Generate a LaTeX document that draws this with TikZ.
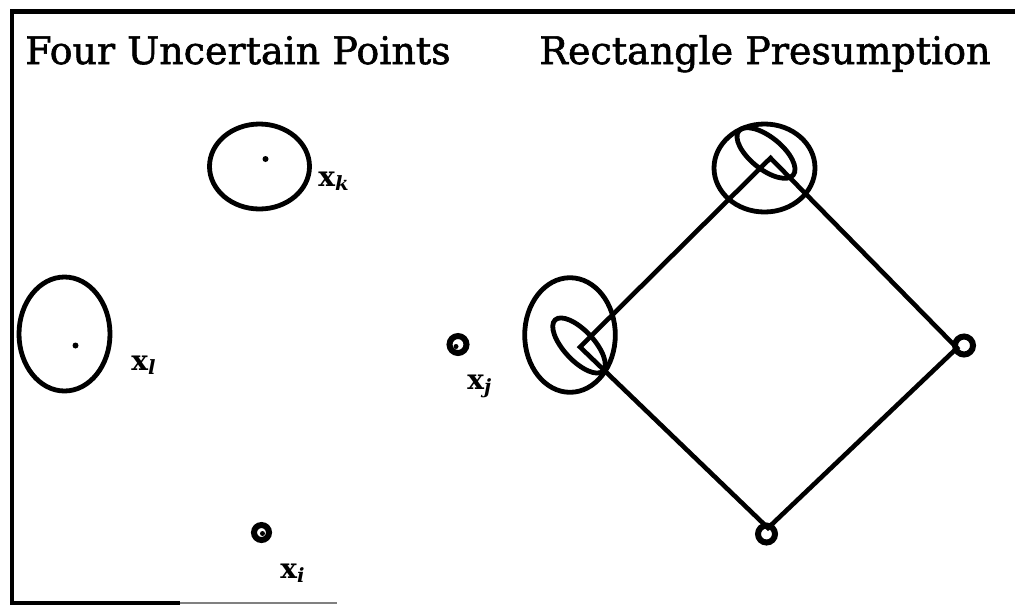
\documentclass[tikz,border=0pt]{standalone}
\usepackage{fontspec}
\setmainfont{DejaVu Serif}
\newfontfamily\heavyserif[FakeBold=1.5]{DejaVu Serif}
\usetikzlibrary{positioning}

\tikzset{
  ttl/.style={anchor=base, inner sep=0pt, font=\fontsize{19}{22}\heavyserif},
  lab/.style={anchor=base west, inner sep=0pt, font=\fontsize{14}{16}\selectfont\bfseries},
  ring/.style={draw, line width=2.4pt},
  pin/.style={draw, line width=3pt},
  side/.style={draw, line width=2.3pt, line join=miter},
}

\begin{document}
\begin{tikzpicture}[x=0.5pt, y=-0.5pt]
    \useasboundingbox (0,0) rectangle (1015,606);

    % Frame
    \draw[line width=2.4pt] (180,603) -- (12,603) -- (12,11.5) -- (1015,11.5);
    \draw[gray, line width=0.8pt] (180,603) -- (337,603);

    % Titles
    \node (FourTitle) [ttl] at (238,64) {Four Uncertain Points};
    \node (RectTitle) [ttl] at (765,64) {Rectangle Presumption};

    % Points
    \coordinate (Pk) at (265.5,159);
    \coordinate (Pl) at (75.5,345.5);
    \coordinate (Pj) at (458,344.5);
    \coordinate (Pi) at (261.5,532.5);
    \coordinate (Rk) at (770.5,158);
    \coordinate (Rl) at (580,347);
    \coordinate (Rj) at (957,348);
    \coordinate (Ri) at (768,528);
    \coordinate (Cj) at (964,345.5);
    \coordinate (Ci) at (766.5,534);

    % Left: the four uncertain points
    \draw[ring] (259.5,166.5) ellipse [x radius=50, y radius=42.5];
    \draw[ring] (64.5,334) ellipse [x radius=45.5, y radius=57];
    \fill (Pk) circle [radius=3];
    \fill (Pl) circle [radius=3];
    \draw[pin] (Pj) circle [radius=8.5];
    \fill ([shift={(-2,2)}]Pj) circle [radius=2.5];
    \draw[pin] (Pi) circle [radius=7.5];
    \fill ([shift={(1,1)}]Pi) circle [radius=2.5];

    \node (Xk) [lab] at (318,186) {x\textsubscript{\itshape k}};
    \node (Xl) [lab] at (131,370) {x\textsubscript{\itshape l}};
    \node (Xj) [lab] at (467,389) {x\textsubscript{\itshape j}};
    \node (Xi) [lab] at (280,578) {x\textsubscript{\itshape i}};

    % Right: the presumed rectangle
    \draw[ring] (764.5,168) ellipse [x radius=50.5, y radius=44];
    \draw[ring, rotate around={-39:(766,153)}] (766,153) ellipse [x radius=35, y radius=16];
    \draw[ring] (570,335) ellipse [x radius=45.3, y radius=57.3];
    \draw[ring, rotate around={-47:(579,345.5)}] (579,345.5) ellipse [x radius=35, y radius=15];
    \draw[pin] (Cj) circle [radius=9];
    \draw[pin] (Ci) circle [radius=8.5];

    \draw[side] (Rl) -- (Rk) -- (Rj) -- (Ri) -- cycle;
\end{tikzpicture}
\end{document}
